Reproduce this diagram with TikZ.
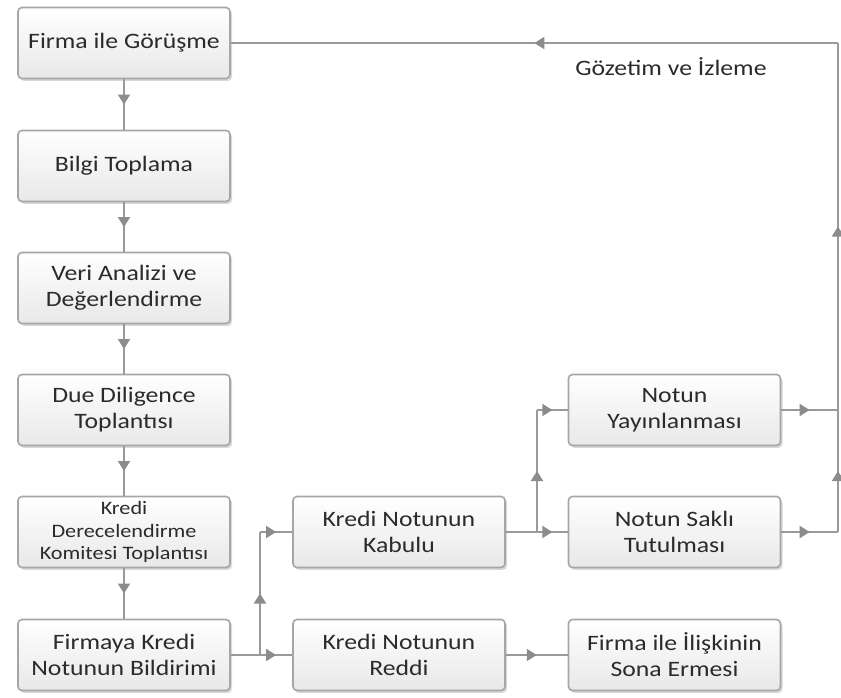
\documentclass[tikz,border=0pt]{standalone}
\usepackage{fontspec}
\setmainfont[FakeStretch=1.17]{Carlito}
\usetikzlibrary{arrows.meta,decorations.markings,shadows}
\definecolor{lin}{HTML}{9A9A9A}
\definecolor{arr}{HTML}{8C8C8C}
\definecolor{txt}{HTML}{2B2B2B}
\definecolor{bord}{HTML}{A6A6A6}
\tikzset{
 box/.style={draw=bord, line width=0.8pt, rounded corners=2pt, top color=white, bottom color=gray!18,
   minimum width=106pt, minimum height=35.5pt, inner sep=0pt, align=center, text=txt,
   font=\fontsize{11}{13}\selectfont,
   drop shadow={shadow xshift=1pt, shadow yshift=-1.2pt, opacity=0.3}},
 smalltext/.style={font=\fontsize{9.5}{11.25}\selectfont},
 conn/.style={draw=lin, line width=1pt},
 mid/.style={conn, postaction={decorate}, decoration={markings,
   mark=at position 0.5 with {\arrow[color=arr]{Triangle[length=5pt,width=6pt]}}}},
}
\begin{document}
\begin{tikzpicture}[x=0.5pt,y=-0.5pt]
\useasboundingbox (0,0) rectangle (841,697);
% left column
\node[box] (b1) at (124,43) {Firma ile Görüşme};
\node[box] (b2) at (124,166) {Bilgi Toplama};
\node[box] (b3) at (124,288) {Veri Analizi ve\\Değerlendirme};
\node[box] (b4) at (124,410) {Due Diligence\\Toplantısı};
\node[box,smalltext] (b5) at (124,532) {Kredi\\Derecelendirme\\Komitesi Toplantısı};
\node[box] (b6) at (124,655) {Firmaya Kredi\\Notunun Bildirimi};
% middle column
\node[box] (kab) at (399,532) {Kredi Notunun\\Kabulu};
\node[box] (red) at (399,655) {Kredi Notunun\\Reddi};
% right column
\node[box] (yay) at (674.5,410) {Notun\\Yayınlanması};
\node[box] (sak) at (674.5,532) {Notun Saklı\\Tutulması};
\node[box] (son) at (674.5,655) {Firma ile İlişkinin\\Sona Ermesi};
% label
\node[text=txt, font=\fontsize{11}{13}\selectfont] (lbl) at (671,67) {Gözetim ve İzleme};
% coordinates
\coordinate (j1) at (260,655);
\coordinate (j1u) at (260,532);
\coordinate (j2) at (537,532);
\coordinate (j2u) at (537,410);
\coordinate (r1) at (838,532);
\coordinate (r2) at (838,410);
\coordinate (r3) at (838,43);
% connectors
\draw[mid] (b1.south) -- (b2.north);
\draw[mid] (b2.south) -- (b3.north);
\draw[mid] (b3.south) -- (b4.north);
\draw[mid] (b4.south) -- (b5.north);
\draw[mid] (b5.south) -- (b6.north);
\draw[conn] (b6.east) -- (j1);
\draw[mid] (j1) -- (j1u);
\draw[mid] (j1u) -- (kab.west);
\draw[mid] (j1) -- (red.west);
\draw[conn] (kab.east) -- (j2);
\draw[mid] (j2) -- (j2u);
\draw[mid] (j2u) -- (yay.west);
\draw[mid] (j2) -- (sak.west);
\draw[mid] (red.east) -- (son.west);
\draw[mid] (yay.east) -- (r2);
\draw[mid] (sak.east) -- (r1);
\draw[mid] (r1) -- (r2);
\draw[mid] (r2) -- (r3);
\draw[mid] (r3) -- (b1.east);
\end{tikzpicture}
\end{document}
